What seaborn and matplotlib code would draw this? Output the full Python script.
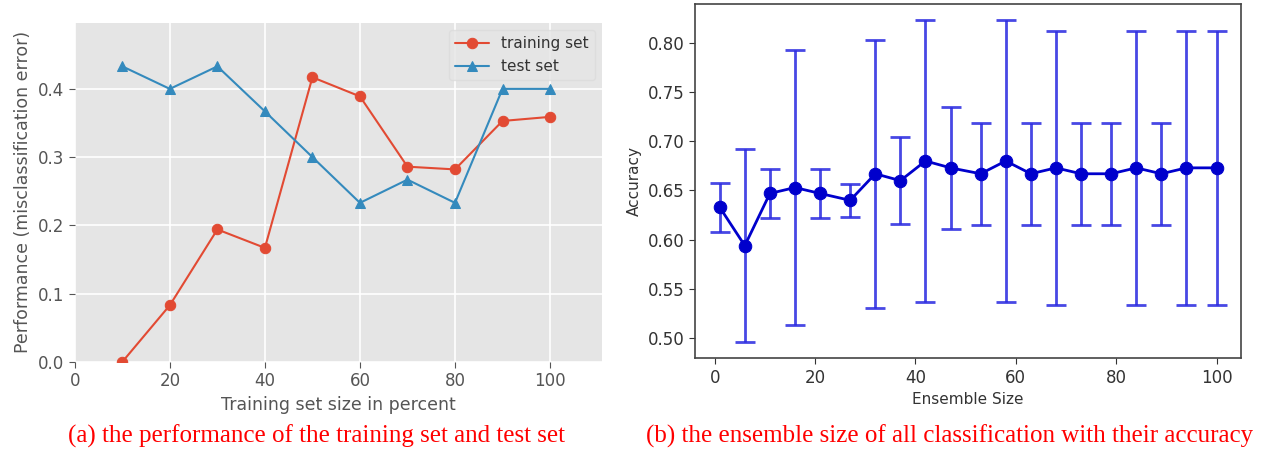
import matplotlib
matplotlib.use("Agg")
import matplotlib.pyplot as plt
import seaborn as sns
import pandas as pd

# (a) learning curve
train_size = [10, 20, 30, 40, 50, 60, 70, 80, 90, 100]
train_err = [0.0, 0.083, 0.194, 0.167, 0.417, 0.389, 0.286, 0.282, 0.353, 0.359]
test_err = [0.433, 0.4, 0.433, 0.367, 0.3, 0.233, 0.267, 0.233, 0.4, 0.4]

# (b) ensemble size vs accuracy
ens_size = [1, 6, 11, 16, 21, 27, 32, 37, 42, 47, 53, 58, 63, 68, 73, 79, 84, 89, 94, 100]
acc_mean = [0.633, 0.594, 0.647, 0.653, 0.647, 0.640, 0.667, 0.660, 0.680, 0.673,
            0.667, 0.680, 0.667, 0.673, 0.667, 0.667, 0.673, 0.667, 0.673, 0.673]
acc_err = [0.025, 0.098, 0.025, 0.140, 0.025, 0.017, 0.136, 0.044, 0.143, 0.062,
           0.052, 0.143, 0.052, 0.139, 0.052, 0.052, 0.139, 0.052, 0.139, 0.139]

df_a = pd.DataFrame({"size": train_size, "train": train_err, "test": test_err})
df_b = pd.DataFrame({"size": ens_size, "acc": acc_mean, "err": acc_err})

sns.set_style("white")
plt.rcParams["font.family"] = ["DejaVu Sans"]

fig = plt.figure(figsize=(12.68, 4.54), dpi=100)

# ---- left panel, ggplot look
ax1 = fig.add_axes([0.059, 0.203, 0.416, 0.747])
ax1.set_facecolor("#E5E5E5")
sns.lineplot(data=df_a, x="size", y="train", marker="o", markersize=7.5, color="#E24A33",
             markeredgecolor="#E24A33", linewidth=1.5, label="training set", ax=ax1)
sns.lineplot(data=df_a, x="size", y="test", marker="^", markersize=7.5, color="#348ABD",
             markeredgecolor="#348ABD", linewidth=1.5, label="test set", ax=ax1)
ax1.set_xlim(0, 111)
ax1.set_ylim(0, 0.497)
ax1.set_xticks([0, 20, 40, 60, 80, 100])
ax1.set_yticks([0.0, 0.1, 0.2, 0.3, 0.4])
ax1.grid(True, color="white", linewidth=1.2)
ax1.set_axisbelow(True)
for s in ax1.spines.values():
    s.set_visible(False)
ax1.tick_params(axis="both", colors="#555555", labelsize=12, length=4, direction="out",
                bottom=True, left=True)
ax1.set_xlabel("Training set size in percent", fontsize=12.5, color="#555555")
ax1.set_ylabel("Performance (misclassification error)", fontsize=12.5, color="#555555")
leg = ax1.legend(loc="upper right", fontsize=11, frameon=True, facecolor="#E5E5E5",
                 edgecolor="#DCDCDC", handlelength=2.2)
for t in leg.get_texts():
    t.set_color("#333333")

# ---- right panel
ax2 = fig.add_axes([0.548, 0.211, 0.431, 0.780])
ax2.errorbar(df_b["size"], df_b["acc"], yerr=df_b["err"], fmt="none", ecolor="#2828e0",
             elinewidth=2, capsize=7, capthick=2, alpha=0.85)
sns.lineplot(data=df_b, x="size", y="acc", marker="o", markersize=9, color="#0000cc",
             markeredgecolor="#0000cc", linewidth=2, ax=ax2)
ax2.set_xticks([0, 20, 40, 60, 80, 100])
ax2.set_yticks([0.50, 0.55, 0.60, 0.65, 0.70, 0.75, 0.80])
ax2.set_yticklabels(["0.50", "0.55", "0.60", "0.65", "0.70", "0.75", "0.80"])
for s in ax2.spines.values():
    s.set_visible(True)
    s.set_color("#444444")
    s.set_linewidth(1.2)
ax2.tick_params(axis="both", colors="#333333", labelsize=12, length=4, direction="out",
                bottom=True, left=True)
ax2.set_xlabel("Ensemble Size", fontsize=11, color="#333333")
ax2.set_ylabel("Accuracy", fontsize=11, color="#333333")

# captions
fig.text(0.250, 0.038, "(a) the performance of the training set and test set",
         ha="center", va="center", color="red", fontsize=18, family="Liberation Serif")
fig.text(0.749, 0.038, "(b) the ensemble size of all classification with their accuracy",
         ha="center", va="center", color="red", fontsize=18, family="Liberation Serif")

fig.savefig("out.png", dpi=100)
